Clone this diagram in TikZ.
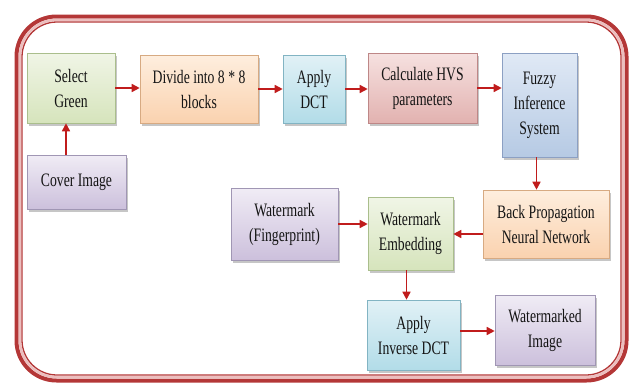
\documentclass[tikz,border=0pt]{standalone}
\usepackage{fontspec}
\setmainfont{Liberation Serif}[FakeStretch=0.72]
\usetikzlibrary{arrows.meta,shadows,calc}
\definecolor{arrred}{RGB}{192,28,28}
\definecolor{framered}{RGB}{180,55,55}
\definecolor{framepink}{RGB}{236,190,190}
\definecolor{gT}{RGB}{240,245,230}\definecolor{gB}{RGB}{214,228,188}\definecolor{gD}{RGB}{170,190,140}
\definecolor{oT}{RGB}{254,238,222}\definecolor{oB}{RGB}{250,210,175}\definecolor{oD}{RGB}{215,170,130}
\definecolor{bT}{RGB}{225,241,246}\definecolor{bB}{RGB}{178,220,232}\definecolor{bD}{RGB}{130,180,195}
\definecolor{rT}{RGB}{246,225,224}\definecolor{rB}{RGB}{226,178,176}\definecolor{rD}{RGB}{190,135,135}
\definecolor{lT}{RGB}{224,233,245}\definecolor{lB}{RGB}{182,202,228}\definecolor{lD}{RGB}{140,160,195}
\definecolor{pT}{RGB}{240,236,245}\definecolor{pB}{RGB}{204,192,220}\definecolor{pD}{RGB}{160,150,180}
\tikzset{
  box/.style={rectangle, align=center, inner sep=1pt, text=black!92,
    font=\fontsize{19}{25}\selectfont, line width=0.6pt,
    drop shadow={shadow xshift=2pt, shadow yshift=-3pt, opacity=0.45}},
  gbox/.style={box, draw=gD, top color=gT, bottom color=gB},
  obox/.style={box, draw=oD, top color=oT, bottom color=oB},
  bbox/.style={box, draw=bD, top color=bT, bottom color=bB},
  rbox/.style={box, draw=rD, top color=rT, bottom color=rB},
  lbox/.style={box, draw=lD, top color=lT, bottom color=lB},
  pbox/.style={box, draw=pD, top color=pT, bottom color=pB},
  arr/.style={draw=arrred, line width=1.5pt, -{Triangle[length=8pt,width=8pt]}},
}
\begin{document}
\begin{tikzpicture}[x=1pt,y=-1pt]
\useasboundingbox (0,0) rectangle (631,383);
% frame
\draw[framered, line width=4pt, rounded corners=40pt] (16.5,16.5) rectangle (626.5,380.5);
\draw[framepink, line width=2.5pt, rounded corners=37pt] (19.8,19.8) rectangle (623.2,377.2);
\draw[framered, line width=1.3pt, rounded corners=35pt] (22,22) rectangle (621,375);
% nodes
\node[gbox, minimum width=88pt, minimum height=70pt] (sg) at (71,88) {Select\\Green};
\node[obox, minimum width=118pt, minimum height=68pt] (div) at (199,89) {Divide into 8 * 8\\blocks};
\node[bbox, minimum width=62pt, minimum height=68pt] (dct) at (314,89) {Apply\\DCT};
\node[rbox, minimum width=109pt, minimum height=70pt] (hvs) at (422.5,88) {Calculate HVS\\parameters};
\node[lbox, minimum width=75pt, minimum height=104pt] (fis) at (539.5,105) {Fuzzy\\Inference\\System};
\node[pbox, minimum width=99pt, minimum height=54pt] (cov) at (76.5,182) {Cover Image};
\node[pbox, minimum width=107pt, minimum height=72pt] (wm) at (284.5,224) {Watermark\\(Fingerprint)};
\node[gbox, minimum width=85pt, minimum height=73pt] (emb) at (410.5,233.5) {Watermark\\Embedding};
\node[obox, minimum width=126pt, minimum height=68pt] (bp) at (546,224) {Back Propagation\\Neural Network};
\node[bbox, minimum width=93pt, minimum height=70pt] (idct) at (413.5,335) {Apply\\Inverse DCT};
\node[pbox, minimum width=100pt, minimum height=70pt] (wmi) at (545,330) {Watermarked\\Image};
% arrows
\draw[arr] (sg.east) -- (sg.east -| div.west);
\draw[arr] (div.east) -- (div.east -| dct.west);
\draw[arr] (dct.east) -- (dct.east -| hvs.west);
\draw[arr] (hvs.east) -- (hvs.east -| fis.west);
\draw[arr] ([xshift=-5pt]sg.south |- cov.north) -- ([xshift=-5pt]sg.south);
\draw[arr] ([xshift=-3pt]fis.south) -- ([xshift=-3pt]fis.south |- bp.north);
\draw[arr] ([yshift=-10pt]bp.west) -- ([yshift=-10pt]bp.west -| emb.east);
\draw[arr] (wm.east) -- (wm.east -| emb.west);
\draw[arr] ([xshift=-4pt]emb.south) -- ([xshift=-4pt]emb.south |- idct.north);
\draw[arr] ([yshift=4pt]idct.east) -- ([yshift=4pt]idct.east -| wmi.west);
\end{tikzpicture}
\end{document}
